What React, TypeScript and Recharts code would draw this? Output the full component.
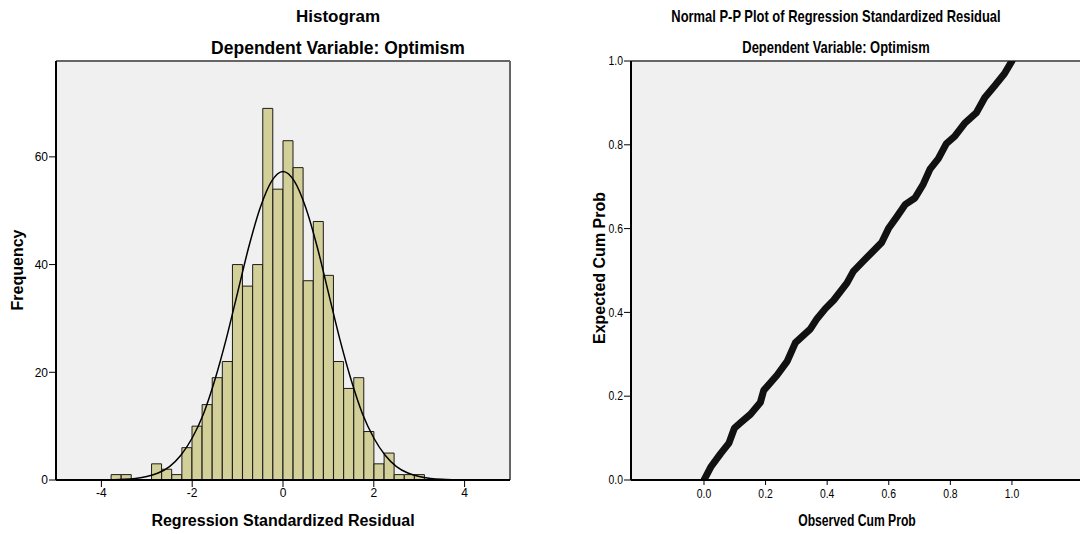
import {
  ComposedChart,
  LineChart,
  Bar,
  Line,
  XAxis,
  YAxis,
  CartesianGrid,
  ReferenceLine,
} from "recharts";

// histogram bins (counts)
const binStart = -3.786;
const binWidth = 0.2227;
const binCounts = [
  1, 1, 0, 0, 3, 2, 1, 6, 10, 14, 19, 22, 40, 36, 40, 69, 54, 63, 58, 37, 48,
  38, 22, 17, 19, 9, 3, 5, 1, 1, 1,
];

// fitted normal curve, read at 0.25 steps
const curveX = [
  -4, -3.75, -3.5, -3.25, -3, -2.75, -2.5, -2.25, -2, -1.75, -1.5, -1.25, -1,
  -0.75, -0.5, -0.25, 0, 0.25, 0.5, 0.75, 1, 1.25, 1.5, 1.75, 2, 2.25, 2.5,
  2.75, 3, 3.25, 3.5, 3.75, 4,
];
const curveY = [
  0.02, 0.05, 0.12, 0.29, 0.64, 1.3, 2.5, 4.6, 7.8, 12.3, 18.6, 26.2, 34.8,
  43.4, 50.6, 55.5, 57.3, 55.5, 50.6, 43.4, 34.8, 26.2, 18.6, 12.3, 7.8, 4.6,
  2.5, 1.3, 0.64, 0.29, 0.12, 0.05, 0.02,
];

const histXTicks = [-4, -2, 0, 2, 4];
const histYTicks = [0, 20, 40, 60];

// P-P plot points
const observedCum = [
  0, 0.022, 0.054, 0.081, 0.099, 0.119, 0.151, 0.183, 0.194, 0.237, 0.27,
  0.297, 0.345, 0.367, 0.394, 0.421, 0.464, 0.485, 0.518, 0.545, 0.577, 0.599,
  0.626, 0.653, 0.685, 0.712, 0.734, 0.761, 0.787, 0.814, 0.847, 0.884, 0.912,
  0.944, 0.976, 1.0,
];
const expectedCum = [
  0, 0.031, 0.063, 0.088, 0.124, 0.137, 0.157, 0.185, 0.214, 0.25, 0.283,
  0.328, 0.36, 0.385, 0.409, 0.429, 0.47, 0.498, 0.523, 0.543, 0.567, 0.6,
  0.628, 0.657, 0.673, 0.706, 0.742, 0.767, 0.803, 0.82, 0.852, 0.876, 0.913,
  0.941, 0.97, 1.0,
];
const ppTicks = [0, 0.2, 0.4, 0.6, 0.8, 1.0];

const histData = binCounts.map((count, i) => ({
  x: binStart + (i + 0.5) * binWidth,
  count,
}));
const curveData = curveX.map((x, i) => ({ x, freq: curveY[i] }));
const ppData = observedCum.map((obs, i) => ({ obs, exp: expectedCum[i] }));

const SANS = "'Liberation Sans', Arial, sans-serif";
const BG = "#f0f0f0";

// no narrow font installed, so squeeze the regular one
const text = (
  s: string,
  left: number,
  top: number,
  size: number,
  narrow = false,
  rotate = false
) => (
  <div
    style={{
      position: "absolute",
      left,
      top,
      transform: `translate(-50%, -50%)${rotate ? " rotate(-90deg)" : ""}${
        narrow ? " scaleX(0.76)" : ""
      }`,
      whiteSpace: "nowrap",
      fontFamily: SANS,
      fontWeight: "bold",
      fontSize: size,
      color: "#000",
    }}
  >
    {s}
  </div>
);

const NarrowTick = (props: any) => {
  const { x, y, payload, textAnchor, verticalAnchor } = props;
  const dy = verticalAnchor === "start" ? "0.71em" : "0.32em";
  return (
    <g transform={`translate(${x},${y})`}>
      <text
        transform="scale(0.8,1)"
        textAnchor={textAnchor}
        dy={dy}
        fontSize={13}
        fontFamily={SANS}
        fill="#000"
      >
        {Number(payload.value).toFixed(1)}
      </text>
    </g>
  );
};

export default function App() {
  return (
    <div
      style={{
        position: "absolute",
        left: 0,
        top: 0,
        width: 1080,
        height: 534,
        background: "#fff",
        overflow: "hidden",
      }}
    >
      <div style={{ position: "absolute", left: 0, top: 0 }}>
        <ComposedChart
          width={540}
          height={534}
          data={histData}
          margin={{ top: 61, right: 30, bottom: 0, left: 0 }}
          barCategoryGap={0}
          barGap={0}
        >
          <CartesianGrid
            fill={BG}
            horizontal={false}
            vertical={false}
            xAxisId="bins"
          />
          <XAxis
            xAxisId="bins"
            dataKey="x"
            type="number"
            domain={[-5, 5]}
            ticks={histXTicks}
            allowDataOverflow
            height={54}
            tick={{ fontSize: 12, fill: "#000", fontFamily: SANS }}
            tickSize={7}
            tickMargin={1}
            axisLine={{ stroke: "#000", strokeWidth: 2 }}
            tickLine={{ stroke: "#000" }}
          />
          <XAxis
            xAxisId="curve"
            dataKey="x"
            type="number"
            domain={[-5, 5]}
            allowDataOverflow
            hide
          />
          <YAxis
            type="number"
            domain={[0, 77.8]}
            ticks={histYTicks}
            allowDataOverflow
            width={56}
            tick={{ fontSize: 12, fill: "#000", fontFamily: SANS }}
            tickSize={7}
            tickMargin={1}
            axisLine={{ stroke: "#000", strokeWidth: 2 }}
            tickLine={{ stroke: "#000" }}
          />
          <Bar
            xAxisId="bins"
            dataKey="count"
            fill="#d3cf99"
            stroke="#1c1c1c"
            strokeWidth={1}
            isAnimationActive={false}
          />
          <Line
            xAxisId="curve"
            data={curveData}
            dataKey="freq"
            type="monotone"
            stroke="#000"
            strokeWidth={1.5}
            dot={false}
            isAnimationActive={false}
          />
          <ReferenceLine xAxisId="bins" y={77.8} stroke="#666" strokeWidth={2} />
          <ReferenceLine xAxisId="bins" x={5} stroke="#666" strokeWidth={2} />
        </ComposedChart>
      </div>

      <div style={{ position: "absolute", left: 560, top: 0 }}>
        <LineChart
          width={520}
          height={534}
          data={ppData}
          margin={{ top: 61, right: 0, bottom: 0, left: 0 }}
        >
          <CartesianGrid fill={BG} horizontal={false} vertical={false} />
          <XAxis
            dataKey="obs"
            type="number"
            domain={[-0.237, 1.221]}
            ticks={ppTicks}
            allowDataOverflow
            height={54}
            tick={<NarrowTick />}
            tickSize={5}
            tickMargin={4}
            axisLine={{ stroke: "#000", strokeWidth: 2 }}
            tickLine={{ stroke: "#000" }}
          />
          <YAxis
            type="number"
            domain={[0, 1]}
            ticks={ppTicks}
            allowDataOverflow
            width={71}
            tick={<NarrowTick />}
            tickSize={7}
            tickMargin={1}
            axisLine={{ stroke: "#000", strokeWidth: 2 }}
            tickLine={{ stroke: "#000" }}
          />
          <ReferenceLine y={1} stroke="#666" strokeWidth={2} />
          <Line
            dataKey="exp"
            type="linear"
            stroke="#111"
            strokeWidth={7}
            strokeLinecap="round"
            strokeLinejoin="round"
            dot={false}
            isAnimationActive={false}
          />
        </LineChart>
      </div>

      {text("Histogram", 338, 17, 17)}
      {text("Dependent Variable: Optimism", 338, 48, 17.5)}
      {text("Frequency", 18, 270, 16, false, true)}
      {text("Regression Standardized Residual", 283, 521, 16)}

      {text("Normal P-P Plot of Regression Standardized Residual", 836, 17, 17, true)}
      {text("Dependent Variable: Optimism", 836, 48, 17, true)}
      {text("Expected Cum Prob", 600, 268, 16, false, true)}
      {text("Observed Cum Prob", 857, 521, 16, true)}
    </div>
  );
}
